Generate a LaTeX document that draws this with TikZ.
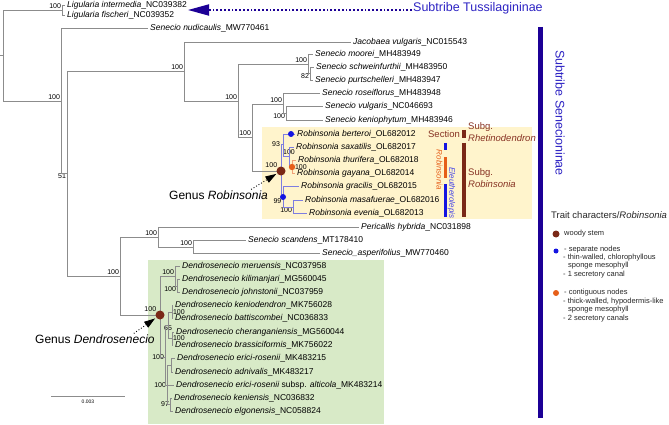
\documentclass[tikz,border=0pt]{standalone}
\usepackage{fontspec}
\setmainfont{Liberation Sans}
\usepackage{tikz}
\usetikzlibrary{arrows.meta,positioning}
\definecolor{treegray}{RGB}{140,140,140}
\definecolor{roblilac}{RGB}{125,125,225}
\definecolor{dotblue}{RGB}{20,20,225}
\definecolor{dotorange}{RGB}{230,95,25}
\definecolor{woodybrown}{RGB}{122,40,22}
\definecolor{secbrown}{RGB}{135,50,35}
\definecolor{tribeblue}{RGB}{28,0,150}
\definecolor{tribetext}{RGB}{45,35,195}
\definecolor{softyellow}{RGB}{255,244,204}
\definecolor{softgreen}{RGB}{216,234,199}

\begin{document}
\begin{tikzpicture}[x=1pt, y=-1pt, >=Latex,
  leaf/.style={anchor=west, inner xsep=2.5pt, inner ysep=0pt, font=\fontsize{8.5}{9}\selectfont},
  bsup/.style={font=\fontsize{7}{7}\selectfont, inner sep=0.8pt},
  br/.style={draw=treegray, line width=0.7pt},
  rbr/.style={draw=roblilac, line width=0.7pt},
  obr/.style={draw=dotorange!60, line width=0.9pt},
  genus/.style={anchor=west, inner sep=1pt, font=\fontsize{12}{12}\selectfont},
  genarrow/.style={dotted, line width=0.9pt, -{Triangle[length=11pt,width=7pt]}},
  tribe/.style={inner sep=1pt, text=tribetext, font=\fontsize{12.5}{13}\selectfont},
  tribearrow/.style={draw=tribeblue, dotted, line width=1.8pt, -{Triangle[length=21pt,width=11pt]}},
  secbar/.style={line width=3pt},
  sect/.style={inner sep=1pt, text=secbrown, font=\fontsize{9.5}{10}\selectfont},
  legtext/.style={anchor=west, inner sep=1pt, text=black!85, font=\fontsize{7.5}{8}\selectfont}]

\useasboundingbox (0,0) rectangle (669,425);

\fill[softyellow] (262,127) rectangle (532,219);
\fill[softgreen] (148,260) rectangle (384,424);

% leaves
\node[leaf] (ligint) at (64.5,5) {\textit{Ligularia intermedia}\_NC039382};
\node[leaf] (ligfis) at (64.5,15) {\textit{Ligularia fischeri}\_NC039352};
\node[leaf] (nud) at (147.5,28) {\textit{Senecio nudicaulis}\_MW770461};
\node[leaf] (jac) at (350.5,42) {\textit{Jacobaea vulgaris}\_NC015543};
\node[leaf] (moo) at (312.5,54) {\textit{Senecio moorei}\_MH483949};
\node[leaf] (sch) at (313.5,67) {\textit{Senecio schweinfurthii}\_MH483950};
\node[leaf] (pur) at (312.5,80) {\textit{Senecio purtschelleri}\_MH483947};
\node[leaf] (ros) at (319.5,93) {\textit{Senecio roseiflorus}\_MH483948};
\node[leaf] (vul) at (322.5,106) {\textit{Senecio vulgaris}\_NC046693};
\node[leaf] (ken) at (322.5,120) {\textit{Senecio keniophytum}\_MH483946};
\node[leaf] (ber) at (294.5,134) {\textit{Robinsonia berteroi}\_OL682012};
\node[leaf] (sax) at (293.5,147) {\textit{Robinsonia saxatilis}\_OL682017};
\node[leaf] (thu) at (295.5,160) {\textit{Robinsonia thurifera}\_OL682018};
\node[leaf] (gay) at (294.5,173) {\textit{Robinsonia gayana}\_OL682014};
\node[leaf] (gra) at (298.5,186) {\textit{Robinsonia gracilis}\_OL682015};
\node[leaf] (mas) at (302.5,200) {\textit{Robinsonia masafuerae}\_OL682016};
\node[leaf] (eve) at (306.5,213) {\textit{Robinsonia evenia}\_OL682013};
\node[leaf] (perl) at (358.5,227) {\textit{Pericallis hybrida}\_NC031898};
\node[leaf] (sca) at (245.5,240) {\textit{Senecio scandens}\_MT178410};
\node[leaf] (asp) at (319.5,253) {\textit{Senecio\_asperifolius}\_MW770460};
\node[leaf] (mer) at (179.5,266) {\textit{Dendrosenecio meruensis}\_NC037958};
\node[leaf] (kil) at (179.5,279) {\textit{Dendrosenecio kilimanjari}\_MG560045};
\node[leaf] (joh) at (179.5,292) {\textit{Dendrosenecio johnstonii}\_NC037959};
\node[leaf] (kdd) at (172.5,305) {\textit{Dendrosenecio keniodendron}\_MK756028};
\node[leaf] (bat) at (172.5,318) {\textit{Dendrosenecio battiscombei}\_NC036833};
\node[leaf] (che) at (173.5,332) {\textit{Dendrosenecio cheranganiensis}\_MG560044};
\node[leaf] (bra) at (172.5,345) {\textit{Dendrosenecio brassiciformis}\_MK756022};
\node[leaf] (eri) at (174.5,358) {\textit{Dendrosenecio erici-rosenii}\_MK483215};
\node[leaf] (adn) at (172.5,372) {\textit{Dendrosenecio adnivalis}\_MK483217};
\node[leaf] (alt) at (173.5,385) {\textit{Dendrosenecio erici-rosenii} subsp. \textit{alticola}\_MK483214};
\node[leaf] (kns) at (171.5,398) {\textit{Dendrosenecio keniensis}\_NC036832};
\node[leaf] (elg) at (172.5,411) {\textit{Dendrosenecio elgonensis}\_NC058824};

% inner nodes
\coordinate (rootstub) at (0,55);
\coordinate (r) at (3,55);
\coordinate[label={[bsup]above left:100}] (lig) at (62,10);
\coordinate[label={[bsup]above left:100}] (a) at (61,101);
\coordinate[label={[bsup]below left:51}] (b) at (67,173);
\coordinate[label={[bsup]above left:100}] (c) at (184,71);
\coordinate[label={[bsup]above left:100}] (e) at (238,101);
\coordinate[label={[bsup]above left:100}] (mo) at (308,64);
\coordinate[label={[bsup]below left:82}] (sp) at (310,73);
\coordinate[label={[bsup]above left:100}] (f) at (252,137);
\coordinate[label={[bsup]above left:100}] (rs) at (283,104);
\coordinate[label={[bsup]below left:100}] (vk) at (286,113);
\coordinate[label={[bsup,label distance=4pt]above left:100}] (rob) at (281,171);
\coordinate[label={[bsup,label distance=2pt]left:93}] (r93) at (283,144);
\coordinate[label={[bsup]above:100}] (sx) at (289,156);
\coordinate[label={[bsup,label distance=2pt]right:100}] (tg) at (292,167);
\coordinate[label={[bsup,label distance=1pt]below left:99}] (r99) at (283,197);
\coordinate[label={[bsup]below left:100}] (me) at (293,207);
\coordinate[label={[bsup]above left:100}] (p) at (120,276);
\coordinate[label={[bsup]above left:100}] (per) at (158,237);
\coordinate[label={[bsup]above left:100}] (ss) at (193,247);
\coordinate[label={[bsup,label distance=4pt]above left:100}] (dd) at (160,315);
\coordinate[label={[bsup]above left:100}] (dm) at (175,276);
\coordinate[label={[bsup]below left:100}] (kj) at (177,286);
\coordinate[label={[bsup]left:100}] (dx) at (165,357);
\coordinate[label={[bsup]below:65}] (d65) at (168,325);
\coordinate[label={[bsup]right:100}] (kb) at (172,312);
\coordinate[label={[bsup]right:100}] (cb) at (172,338);
\coordinate[label={[bsup]left:100}] (dl) at (167,385);
\coordinate (ea) at (171,365);
\coordinate[label={[bsup]left:97}] (ke) at (170,404);

% branches
\draw[br] (rootstub) -- (r);
\draw[br] (r) |- (lig);
\draw[br] (r) |- (a);
\draw[br] (lig) |- (ligint.west);
\draw[br] (lig) |- (ligfis.west);
\draw[br] (a) |- (nud.west);
\draw[br] (a) |- (b);
\draw[br] (b) |- (c);
\draw[br] (b) |- (p);
\draw[br] (c) |- (jac.west);
\draw[br] (c) |- (e);
\draw[br] (e) |- (mo);
\draw[br] (e) |- (f);
\draw[br] (mo) |- (moo.west);
\draw[br] (mo) |- (sp);
\draw[br] (sp) |- (sch.west);
\draw[br] (sp) |- (pur.west);
\draw[br] (f) |- (rs);
\draw[br] (f) |- (rob);
\draw[br] (rs) |- (ros.west);
\draw[br] (rs) |- (vk);
\draw[br] (vk) |- (vul.west);
\draw[br] (vk) |- (ken.west);
\draw[rbr] (rob) |- (r93);
\draw[rbr] (rob) |- (r99);
\draw[rbr] (r93) |- (ber.west);
\draw[rbr] (r93) |- (sx);
\draw[rbr] (sx) |- (sax.west);
\draw[rbr] (sx) |- (tg);
\draw[obr] (tg) |- (thu.west);
\draw[obr] (tg) |- (gay.west);
\draw[rbr] (r99) |- (gra.west);
\draw[rbr] (r99) |- (me);
\draw[rbr] (me) |- (mas.west);
\draw[rbr] (me) |- (eve.west);
\draw[br] (p) |- (per);
\draw[br] (p) |- (dd);
\draw[br] (per) |- (perl.west);
\draw[br] (per) |- (ss);
\draw[br] (ss) |- (sca.west);
\draw[br] (ss) |- (asp.west);
\draw[br] (dd) |- (dm);
\draw[br] (dd) |- (dx);
\draw[br] (dm) |- (mer.west);
\draw[br] (dm) |- (kj);
\draw[br] (kj) |- (kil.west);
\draw[br] (kj) |- (joh.west);
\draw[br] (dx) |- (d65);
\draw[br] (dx) |- (dl);
\draw[br] (d65) |- (kb);
\draw[br] (d65) |- (cb);
\draw[br] (kb) |- (kdd.west);
\draw[br] (kb) |- (bat.west);
\draw[br] (cb) |- (che.west);
\draw[br] (cb) |- (bra.west);
\draw[br] (dl) |- (ea);
\draw[br] (dl) |- (alt.west);
\draw[br] (dl) |- (ke);
\draw[br] (ea) |- (eri.west);
\draw[br] (ea) |- (adn.west);
\draw[br] (ke) |- (kns.west);
\draw[br] (ke) |- (elg.west);

% trait dots
\fill[woodybrown] (rob) circle (4.5pt);
\fill[woodybrown] (dd) circle (4.5pt);
\fill[dotblue] ([xshift=-3.5pt]ber.west) circle (3pt);
\fill[dotblue] (r99) circle (3pt);
\fill[dotorange] (tg) circle (3.2pt);

% genus labels
\node[genus] (genrob) at (168,195) {Genus \textit{Robinsonia}};
\node[genus] (genden) at (34,339) {Genus \textit{Dendrosenecio}};
\draw[genarrow, shorten >=5.5pt] ([xshift=-18pt]genrob.north east) -- (rob);
\draw[genarrow, shorten >=6pt] ([xshift=-22pt]genden.north east) -- (dd);

% subtribes
\coordinate (ligtip) at (188,10);
\node[tribe, anchor=west] (tussi) at (412,8) {Subtribe Tussilagininae};
\draw[tribearrow] ([yshift=-2pt]tussi.west) -- (ligtip);
\draw[draw=tribeblue, line width=5pt] (540,27) -- (540,418);
\node[tribe, rotate=-90] (senec) at (560,113) {Subtribe Senecioninae};

% sections and subgenera
\draw[secbar, woodybrown, line width=3.5pt] (464,130) -- (464,138);
\draw[secbar, woodybrown, line width=3.5pt] (464,143) -- (464,217);
\draw[secbar, dotblue] (445,143) -- (445,150);
\draw[secbar, dotorange] (445,157) -- (445,178);
\draw[secbar, dotblue] (445,184) -- (445,217);
\node[sect] (secname) at (444,134) {Section};
\node[sect, anchor=west] (subg1) at (467,127) {Subg.};
\node[sect, anchor=west] (rhet) at (467,138) {\textit{Rhetinodendron}};
\node[sect, anchor=west] (subg2) at (467,173) {Subg.};
\node[sect, anchor=west] (subrob) at (467,184) {\textit{Robinsonia}};
\node[rotate=-90, inner sep=0pt, text=dotorange, font=\fontsize{8}{8}\selectfont] (secrob) at (439.5,170) {\textit{Robinsonia}};
\node[rotate=-90, inner sep=0pt, text=dotblue!80, font=\fontsize{8}{8}\selectfont] (seceleu) at (451.5,193) {\textit{Eleutherolepis}};

% legend
\node[anchor=west, inner sep=1pt, text=black!85, font=\fontsize{9.5}{10}\selectfont] (legtitle) at (550,215) {Trait characters/\textit{Robinsonia}};
\fill[woodybrown] (556,234) circle (3.5pt);
\node[legtext] (legwoody) at (563,234) {woody stem};
\fill[dotblue] (556,251) circle (2.5pt);
\node[legtext] (legsep1) at (563,250) {- separate nodes};
\node[legtext] (legsep2) at (562,258) {- thin-walled, chlorophyllous};
\node[legtext] (legsep3) at (567,266) {sponge mesophyll};
\node[legtext] (legsep4) at (562,275) {- 1 secretory canal};
\fill[dotorange] (556,293) circle (3pt);
\node[legtext] (legcon1) at (563,293) {- contiguous nodes};
\node[legtext] (legcon2) at (562,302) {- thick-walled, hypodermis-like};
\node[legtext] (legcon3) at (567,310) {sponge mesophyll};
\node[legtext] (legcon4) at (562,319) {- 2 secretory canals};

% scale
\draw[br] (51,396) -- (125,396);
\node[inner sep=0pt, font=\fontsize{5}{5}\selectfont] (scale) at (88,402) {0.003};
\end{tikzpicture}
\end{document}
